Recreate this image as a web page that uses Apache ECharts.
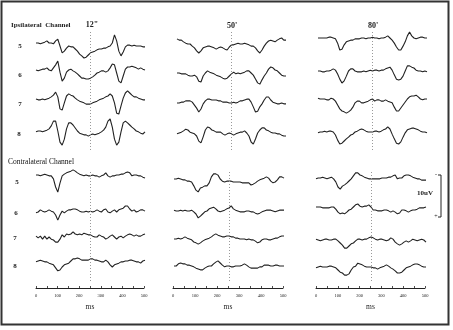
<!DOCTYPE html>
<html><head><meta charset="utf-8">
<script src="https://cdn.jsdelivr.net/npm/echarts@6/dist/echarts.min.js"></script>
<style>html,body{margin:0;padding:0;background:#fff}#c{width:453px;height:330px}</style>
</head><body><div id="c"></div>
<script>
// time axis (ms)
const times = [0,10,20,30,40,50,60,70,80,90,100,110,120,130,140,150,160,170,180,190,200,210,220,230,240,250,260,270,280,290,300,310,320,330,340,350,360,370,380,390,400,410,420,430,440,450,460,470,480,490,500];
const columnLabels = ['12"', "50'", "80'"];
const rowLabels = ['5','6','7','8'];
const tickLabels = [0,100,200,300,400,500];
const stimulusMs = 250;

// Ipsilateral channel, values in uV (negative plotted upward)
const i12_5 = [0,0,0.2,0,-0.2,-0.5,0,0,0.2,-0.5,-0.9,0.7,2.3,1.9,1.2,0.7,0.9,0.9,1.4,1.9,2.6,3.0,3.5,3.3,2.8,2.3,2.1,1.9,1.6,1.4,1.4,1.2,1.2,0.9,0.7,0,-1.9,-0.5,1.9,3.0,2.1,0.9,0.5,0.5,0.7,0.5,0.7,0.7,0.7,0.9,0.9];
const i12_6 = [0,0.2,0,-0.2,-0.2,-0.5,0,0.2,-0.5,-1.2,-2.1,0.5,2.6,1.9,0.5,0,-0.2,0.2,0.5,0.9,1.4,1.9,1.9,2.1,2.1,1.9,1.6,1.2,0.7,0.5,0.2,0.2,0.5,0.2,-0.5,-1.4,-1.2,0.7,2.6,3.0,1.4,-0.2,-0.7,-0.7,-0.9,-0.7,-0.5,-0.2,-0.5,-0.2,0];
const i12_7 = [0,0.2,0.2,0,0.2,0,-0.2,-0.5,-0.9,-1.6,-0.5,2.3,2.6,0.9,-0.7,-1.2,-0.9,-0.7,-0.2,0.2,0.5,0.7,0.9,1.2,1.2,1.2,0.9,0.7,0.5,0.2,0,-0.2,-0.5,-0.7,-1.2,-0.7,0.9,3.3,3.5,1.6,-0.2,-1.4,-1.9,-1.4,-0.9,-0.5,-0.5,-0.2,0,0.2,0.2];
const i12_8 = [0.2,0,0,0.2,0,-0.2,-0.5,-1.2,-2.3,-2.3,0,2.6,3.3,1.9,-0.5,-1.9,-1.9,-1.4,-0.7,0,0.5,0.7,0.9,0.9,1.2,0.9,0.7,0.9,0.7,0.5,0.2,-0.2,-0.9,-2.3,-2.8,-0.9,1.9,3.3,2.6,0.2,-1.9,-2.3,-1.9,-1.4,-0.9,-0.5,0,0.2,0.5,0.7,0.2];
const i50_5 = [-0.5,-0.2,-0.2,0.2,0.5,0.7,0.7,1.2,1.6,2.3,2.8,2.3,1.6,1.4,1.2,1.2,1.4,1.6,1.9,1.6,1.4,1.6,1.9,2.1,1.4,0.9,0.9,0.7,0.5,0.7,0.7,0.5,0.7,0.9,1.2,1.2,1.6,2.3,2.8,2.1,1.2,0.5,0,-0.2,0,0.2,-0.2,-0.5,-0.7,-0.2,-0.2];
const i50_6 = [0,0,0.2,0.2,0.2,0.5,0.7,0.7,0.5,0.9,1.9,2.1,0.7,0,-0.5,-0.2,0,0.2,0.5,0.7,0.9,1.2,1.4,1.2,0.7,0.2,-0.2,0.2,0,0.2,0,-0.2,-0.5,-0.5,0,0.5,1.4,2.3,2.6,1.6,0.7,0,-0.9,-1.4,-1.2,-0.7,-0.5,0,0.5,0.7,0.7];
const i50_7 = [0,0,-0.2,-0.2,-0.5,-0.5,-0.5,-0.2,0.5,1.2,2.1,1.4,0.2,-0.5,-0.9,-0.9,-0.7,-0.7,-0.7,-0.5,-0.5,-0.2,-0.2,-0.2,0,0,-0.2,0,-0.2,-0.5,-0.5,-0.7,-0.9,-0.9,-0.2,0.9,2.1,1.9,0.9,0.2,-0.7,-1.4,-1.4,-0.7,-0.2,0,0.2,0.2,0,0.2,0.2];
const i50_8 = [0.2,0,-0.2,-0.5,-0.9,-0.7,-0.2,0,0.2,0.7,1.9,2.3,0.9,-0.7,-1.4,-1.2,-0.7,-0.5,-0.2,-0.2,-0.2,0.2,0.5,0.2,0,0.2,0.5,0.2,0,-0.2,-0.2,-0.5,0,0.7,2.1,2.6,1.4,0,-0.7,-1.2,-1.2,-0.7,-0.5,-0.2,0,0,0.2,0.2,0.5,0.7,0.7];
const i80_5 = [0,0,0,0,0,-0.2,-0.2,0,0.2,1.2,2.8,2.6,1.6,0.9,0.7,0.5,0.5,0.2,0.2,0.2,0,0,0.2,0,0,-0.2,0,0,0.2,0,0,-0.2,-0.5,0,0.5,1.2,2.1,2.8,2.8,1.9,0.9,-0.5,-1.4,-0.5,0,0.2,0,-0.2,-0.2,0,0];
const i80_6 = [0,0,0.2,0.2,0,0,-0.2,-0.5,-0.2,0.7,1.9,2.8,2.3,1.2,0,-0.5,-0.5,0,0.2,0.2,0.2,0,0.2,0,-0.2,0,-0.2,-0.2,0,-0.2,-0.2,-0.5,-0.7,-0.9,-0.2,0.9,1.9,2.1,1.9,1.2,0,-1.2,-1.2,-0.9,-0.7,-0.2,0,0,0.2,0,0.2];
const i80_7 = [-0.2,0,0,0,0.2,0.2,-0.2,0,0.5,1.4,2.3,2.8,3.0,3.3,3.0,2.6,1.9,0.9,0.5,0.5,0.9,0.9,0.7,0.5,0.2,0,0.5,0.2,0.2,0.5,0.5,0.2,0.5,0.7,0.9,1.9,2.8,2.8,2.1,1.4,0.7,0,-0.5,-0.7,-0.7,-0.9,-0.5,0,0.2,0,0];
const i80_8 = [0.2,0,0,-0.2,0,-0.2,-0.2,0,0.7,1.9,2.8,2.6,2.1,1.6,1.2,0.7,0.5,0,-0.2,-0.5,-0.7,-0.5,-0.2,0,0,0,-0.2,-0.2,0,-0.2,-0.5,-0.7,-1.2,-0.7,0.5,1.6,2.6,2.8,2.3,1.2,0.2,-0.5,-0.7,-0.9,-0.9,-0.7,-0.5,-0.2,0,0,0.2];

// Contralateral channel
const c12_5 = [0,0,0.2,0,-0.2,0,0.2,0.2,0.9,2.8,4.0,1.9,0.2,-0.2,-0.5,-0.7,-0.9,-1.2,-0.9,-0.5,-0.2,0,0.2,0,0.2,0.2,0,0.2,0.2,0.5,0.2,0,-0.5,0.2,0.5,0.2,0.2,0,0,-0.2,-0.2,-0.5,-0.7,-0.5,0.2,0,0,0.2,0.2,0.5,0.7];
const c12_6 = [0.2,0,-0.5,-0.2,0,-0.2,-0.5,-0.2,0,0.7,1.9,0.7,-0.2,0.2,-0.2,-0.5,-0.5,-0.7,-0.7,-0.5,-0.2,0,0,-0.2,0,-0.2,0,-0.2,-0.5,-0.2,0,-0.5,-0.7,0,0.2,-0.2,-0.5,0,-0.5,-0.7,-0.9,-1.4,-1.4,-0.7,-0.2,-0.5,0,-0.2,-0.5,-0.5,-0.2];
const c12_7 = [-0.2,0.2,-0.2,0.5,-0.2,0.5,0,0.5,0.7,1.2,1.2,0.5,-0.5,0,-0.7,-0.5,-0.7,-1.2,-0.7,-0.5,-0.7,-0.5,-0.9,-0.7,-0.5,-0.5,-0.2,0,0,-0.5,-0.2,0,0.5,0.2,-0.2,-0.5,0,0.5,0,-0.2,0.2,-0.2,-0.5,-0.7,-0.5,-0.2,-0.5,-0.2,-0.2,-0.5,-0.7];
const c12_8 = [0.2,0,-0.2,0,0.2,0.2,0.5,0.7,0.9,1.6,2.3,2.1,1.4,0.9,0.7,0.5,0,-0.5,-0.5,-0.7,-0.5,-0.2,-0.2,-0.2,-0.2,-0.5,-0.5,-0.2,-0.2,0,0.2,0.2,-0.2,0.2,0.9,1.4,0.9,0.7,0.5,0.2,0.2,0,0,-0.2,-0.2,0,0.2,0.2,0.5,0,-0.2];
const c50_5 = [0,0,-0.2,0,0.2,0.2,0.5,0.5,0.7,1.6,2.6,3.0,2.1,1.9,1.6,1.6,0.9,-0.5,-1.2,-1.2,-0.9,0,0.5,0.7,0.5,0.5,0.5,0.7,0.7,0.7,0.7,0.9,0.9,0.9,0.9,1.4,1.2,0.9,0.5,0.2,0,-0.2,-0.5,-0.2,0.5,0.9,0.7,0.2,-0.5,-0.5,-0.2];
const c50_6 = [-0.2,0,0,-0.2,0,-0.2,0,0,-0.2,0.2,0.7,1.6,1.2,0.7,0.2,0,-0.5,-0.7,-0.9,-0.5,0,0.2,0,-0.2,-0.5,-0.7,-1.2,-0.5,-0.2,0,0.2,0.2,0.2,0,0,0.2,0.2,0.5,0.7,0.5,0.2,0,-0.2,-0.2,-0.2,0,0.2,0,-0.2,-0.2,-0.2];
const c50_7 = [0,0,-0.2,0,-0.2,-0.5,-0.2,0,0.2,0.7,0.9,1.2,0.9,0.5,0.2,0,-0.2,-0.5,-0.9,-1.2,-0.9,-0.7,-0.5,-0.5,-0.7,-0.7,-0.5,-0.5,-0.2,-0.2,0,0,0,0.2,0,0.2,0.2,0.5,0.9,0.7,0.2,0,0,0.2,0.2,0,-0.2,-0.2,-0.5,-0.7,-0.7];
const c50_8 = [0,0,-0.5,-0.7,-0.5,-0.5,-0.2,-0.2,0,0.2,0.5,0.7,0.9,0.9,0.5,0.2,0,0,-0.5,-0.9,-1.2,-0.7,-0.2,0.2,0,0,0.2,0.2,0,0,0,-0.2,-0.5,-0.2,0.2,0.5,0.5,0.5,0.5,0.2,0.2,-0.2,-0.2,-0.2,0,0,-0.2,-0.2,0,0,0];
const c80_5 = [0.2,0,0,-0.2,0,0.2,0,-0.2,0.2,0.9,2.1,2.6,1.9,1.6,1.2,0.7,0.2,-0.5,-1.2,-1.2,-0.7,-0.5,-0.2,0,0.2,0.2,0.2,0.2,0.2,0.2,0,0,0,-0.2,-0.2,-0.5,-0.7,0.2,0,0,-0.5,-0.7,-0.7,-0.5,-0.2,0,0.2,0.2,0.5,0.5,0.5];
const c80_6 = [0,0,0,0.2,0.2,0.2,0.2,0,0,0.5,1.2,1.6,1.4,1.6,1.2,0.7,0.5,0,-0.5,-0.7,-0.2,0,-0.2,-0.2,-0.5,0,0.7,0.7,0.9,0.9,0.9,0.7,0.7,0.9,1.2,0.9,1.2,1.6,1.4,0.7,0.7,0.9,1.2,0.9,0.7,0.7,0.5,0.2,0.2,0.2,0];
const c80_7 = [-0.2,0,0.2,0,-0.2,-0.2,0,0,-0.2,-0.2,0.2,0.7,1.2,1.9,1.9,1.4,0.9,0.7,0.2,-0.2,-0.2,0,-0.2,-0.2,-0.5,-0.7,-0.5,-0.2,0,-0.2,-0.2,0,0.2,0,-0.5,-0.2,0.5,0.9,1.2,0.9,0.5,0.2,0.5,0.2,-0.2,0,0.2,0,-0.2,0,0.5];
const c80_8 = [0.2,0,-0.2,0,0,0,-0.2,-0.2,0,0.2,0.7,1.2,1.4,1.9,1.9,1.6,0.7,0,-0.2,-0.9,-0.7,-0.5,-0.2,0,0,0,0.2,0.2,0.5,0.2,0,-0.2,-0.5,-0.2,0.2,0.5,0.9,1.4,1.4,1.2,0.7,0.2,0,-0.2,-0.5,-0.7,-0.7,-0.5,-0.2,0,0];

// ---- layout (pixels) ----
const SERIF = '"Liberation Serif", "DejaVu Serif", serif';
const INK = '#222';
const blocks = [
  {series:[i12_5,i12_6,i12_7,i12_8], x0:36,  x1:145, base:[43,70,99,131],   dot:[30,150]},
  {series:[i50_5,i50_6,i50_7,i50_8], x0:177, x1:286, base:[41,73,103,133],  dot:[30,150]},
  {series:[i80_5,i80_6,i80_7,i80_8], x0:318, x1:427, base:[38,71,99,132],   dot:[30,150]},
  {series:[c12_5,c12_6,c12_7,c12_8], x0:36,  x1:145, base:[175,212,237,261],dot:[170,281]},
  {series:[c50_5,c50_6,c50_7,c50_8], x0:174, x1:284, base:[179,211,239,266],dot:[170,281]},
  {series:[c80_5,c80_6,c80_7,c80_8], x0:316, x1:426, base:[178,207,240,267],dot:[170,281]}
];
const axes = [{x0:36,x1:144},{x0:173,x1:283},{x0:316,x1:425}];
const AXIS_Y = 288;

const grid = [], xAxis = [], yAxis = [], series = [];
function addGrid(g, xa, ya) {
  const idx = grid.length;
  grid.push(Object.assign({containLabel:false}, g));
  xAxis.push(Object.assign({gridIndex:idx}, xa));
  yAxis.push(Object.assign({gridIndex:idx}, ya));
  return idx;
}
const hiddenX = {type:'value', min:0, max:500, show:false};

blocks.forEach(b => {
  b.series.forEach((vals, r) => {
    const gi = addGrid({left:b.x0, width:b.x1-b.x0, top:b.base[r]-30, height:60},
      hiddenX, {type:'value', min:-7, max:7, inverse:true, show:false});
    series.push({type:'line', xAxisIndex:gi, yAxisIndex:gi, showSymbol:false, silent:true,
      data: times.map((t,i)=>[t, vals[i]]),
      lineStyle:{color:INK, width:1.1}, animation:false});
  });
  const gd = addGrid({left:b.x0, width:b.x1-b.x0, top:b.dot[0], height:b.dot[1]-b.dot[0]},
    hiddenX, {type:'value', min:0, max:1, show:false});
  series.push({type:'line', xAxisIndex:gd, yAxisIndex:gd, data:[], silent:true, animation:false,
    markLine:{silent:true, symbol:'none', label:{show:false},
      lineStyle:{type:[1,2], color:'#999', width:1}, data:[{xAxis:stimulusMs}]}});
});

axes.forEach(a => {
  addGrid({left:a.x0, width:a.x1-a.x0, top:AXIS_Y-20, height:20},
    {type:'value', min:0, max:500, interval:50, position:'bottom',
     name:'ms', nameLocation:'middle', nameGap:15,
     nameTextStyle:{fontFamily:SERIF, fontSize:7.5, color:INK},
     axisLine:{lineStyle:{color:INK, width:1}},
     axisTick:{inside:true, length:2, lineStyle:{color:INK, width:0.8}},
     splitLine:{show:false},
     axisLabel:{fontSize:4.5, color:INK, margin:5, fontFamily:SERIF,
       formatter: v => tickLabels.includes(v) ? String(v) : ''}},
    {type:'value', show:false, min:0, max:1});
});

const graphic = [
  {type:'rect', shape:{x:1.5, y:1.5, width:447, height:323}, style:{fill:'none', stroke:'#333', lineWidth:2}, silent:true},
  {type:'text', x:11, y:25, style:{text:'Ipsilateral  Channel', font:'bold 7px '+SERIF, fill:INK, textVerticalAlign:'middle'}},
  {type:'text', x:8, y:162, style:{text:'Contralateral Channel', font:'7.5px '+SERIF, fill:'#111', textVerticalAlign:'middle'}},
  {type:'text', x:425, y:193, style:{text:'10uV', font:'bold 7px '+SERIF, fill:INK, textAlign:'center', textVerticalAlign:'middle'}},
  {type:'polyline', shape:{points:[[438,175],[441,175],[441,217],[438,217]]}, style:{stroke:INK, lineWidth:1, fill:'none'}},
  {type:'text', x:436, y:174, style:{text:'-', font:'6px '+SERIF, fill:INK, textAlign:'center', textVerticalAlign:'middle'}},
  {type:'text', x:436, y:216, style:{text:'+', font:'6px '+SERIF, fill:INK, textAlign:'center', textVerticalAlign:'middle'}}
];
const headerPos = [[92,25],[232,26],[373,26]];
columnLabels.forEach((t,i) => graphic.push({type:'text', x:headerPos[i][0], y:headerPos[i][1],
  style:{text:t, font:'bold 8px '+SERIF, fill:INK, textAlign:'center', textVerticalAlign:'middle'}}));
const ipsiLabelPos = [[20,46],[20,75],[20,104],[19,134]];
const contraLabelPos = [[17,182],[16,213],[15,238],[15,266]];
rowLabels.forEach((t,i) => {
  graphic.push({type:'text', x:ipsiLabelPos[i][0], y:ipsiLabelPos[i][1],
    style:{text:t, font:'bold 7px '+SERIF, fill:INK, textAlign:'center', textVerticalAlign:'middle'}});
  graphic.push({type:'text', x:contraLabelPos[i][0], y:contraLabelPos[i][1],
    style:{text:t, font:'bold 7px '+SERIF, fill:INK, textAlign:'center', textVerticalAlign:'middle'}});
});

const chart = echarts.init(document.getElementById('c'), null, {renderer:'canvas'});
chart.setOption({animation:false, backgroundColor:'#fff', grid, xAxis, yAxis, series, graphic});
</script></body></html>
